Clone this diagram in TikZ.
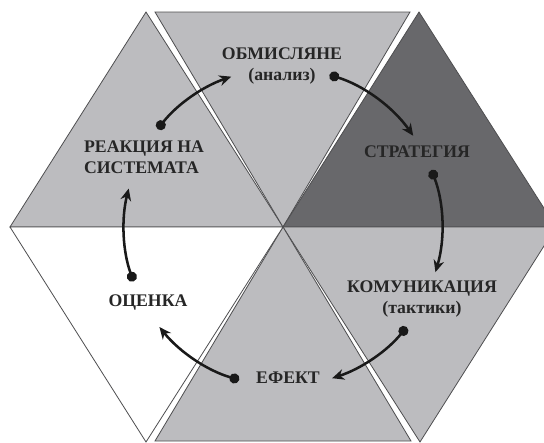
\documentclass[tikz,border=0pt]{standalone}
\usepackage{fontspec}
\setmainfont{Liberation Serif}
\usetikzlibrary{arrows.meta}

\definecolor{lightgr}{RGB}{188,188,191}
\definecolor{darkgr}{RGB}{104,104,107}
\definecolor{edgegr}{RGB}{78,78,80}

\tikzset{every picture/.style={line width=0.75pt}}
\tikzset{
  tri/.style={draw=edgegr, line width=0.6pt},
  stagetxt/.style={font=\fontsize{13.3}{15.5}\selectfont\bfseries, text=black!85, align=center, inner sep=0.75pt},
  flow/.style={line width=1.9pt, black!90, {Circle[length=7.5pt]}-{Stealth[length=9pt,width=8pt]}}
}

\begin{document}
\begin{tikzpicture}[x=0.75pt,y=0.75pt,yscale=-1,xscale=1]
\useasboundingbox (0,0) rectangle (544,443);
\clip (0,0) rectangle (544,443);

% hexagon corners
\coordinate (ctr) at (283,227);
\coordinate (lft) at (10,227);
\coordinate (rgt) at (556,227);
\coordinate (tlA) at (146,12);
\coordinate (tlB) at (155,12);
\coordinate (trB) at (410,12);
\coordinate (trA) at (419,12);
\coordinate (blA) at (146,442);
\coordinate (blB) at (155,441);
\coordinate (brB) at (411,441);
\coordinate (brA) at (420,442);

%Triangles
\draw [tri, fill=lightgr] (ctr) -- (lft) -- (tlA) -- cycle;
\draw [tri, fill=lightgr] (ctr) -- (tlB) -- (trB) -- cycle;
\draw [tri, fill=darkgr] (ctr) -- (trA) -- (rgt) -- cycle;
\draw [tri, fill=lightgr] (ctr) -- (rgt) -- (brA) -- cycle;
\draw [tri, fill=lightgr] (ctr) -- (brB) -- (blB) -- cycle;
\draw [tri, fill=white] (ctr) -- (blA) -- (lft) -- cycle;

% Text Node
\node [stagetxt] (obm) at (282,66) {ОБМИСЛЯНЕ\\(анализ)};
% Text Node
\node [stagetxt] (strat) at (417,152) {СТРАТЕГИЯ};
% Text Node
\node [stagetxt] (komm) at (422,299) {КОМУНИКАЦИЯ\\(тактики)};
% Text Node
\node [stagetxt] (efekt) at (288,378) {ЕФЕКТ};
% Text Node
\node [stagetxt] (otsenka) at (148,303) {ОЦЕНКА};
% Text Node
\node [stagetxt, align=left] (reakc) at (144,157) {РЕАКЦИЯ НА\\СИСТЕМАТА};

%Curve Lines round the centre
\foreach \a/\b in {-142/-109, -73/-35, -21/16.5, 39/72, 106/141, 160/194}
  \draw [flow] ([shift={(\a:159)}]ctr) arc [start angle=\a, end angle=\b, radius=159];
\end{tikzpicture}
\end{document}
